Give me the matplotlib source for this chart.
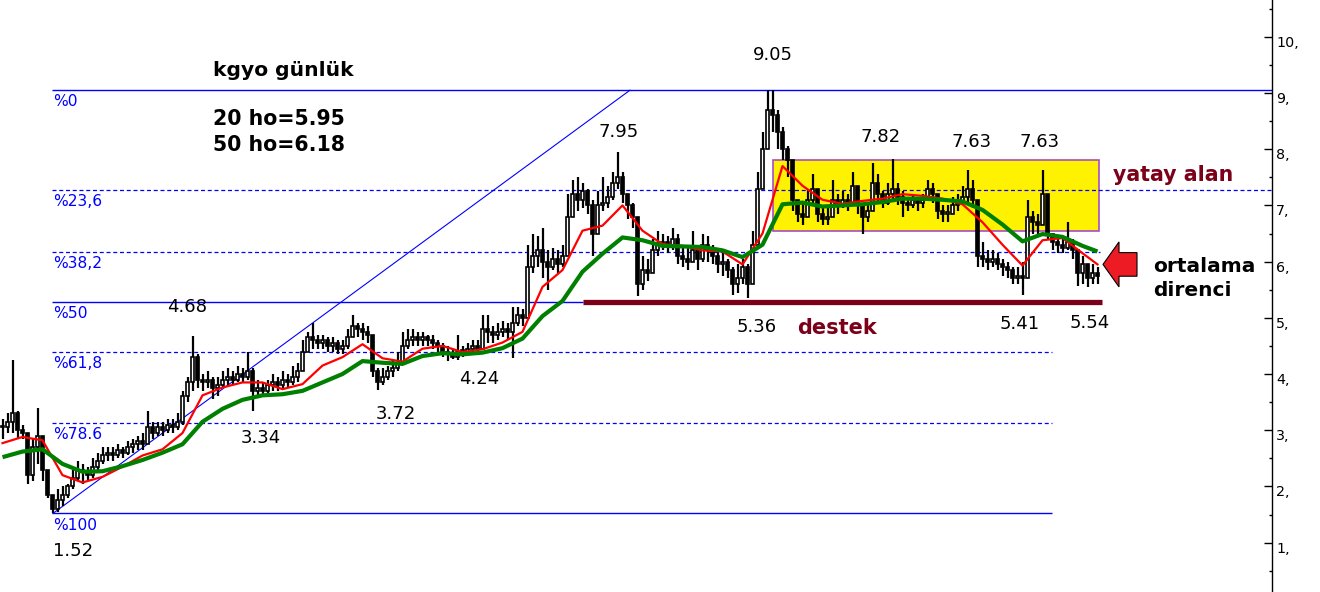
import numpy as np
import matplotlib
matplotlib.use("Agg")
import matplotlib.pyplot as plt
from matplotlib.patches import Rectangle, Polygon
from matplotlib.ticker import FixedLocator, MultipleLocator
import matplotlib.transforms as mtransforms

plt.rcParams['font.family'] = ['DejaVu Sans']

# ---- daily prices (one entry per session) ----
close = [3.05, 3.15, 3.3, 3.0, 2.95, 2.2, 2.7, 2.9, 2.3, 1.85,
         1.6, 1.75, 1.85, 2.0, 2.15, 2.3, 2.25, 2.2, 2.35, 2.45,
         2.55, 2.6, 2.55, 2.65, 2.6, 2.7, 2.75, 2.8, 2.75, 3.05,
         2.95, 3.05, 3.0, 3.1, 3.05, 3.15, 3.6, 3.85, 4.3, 3.9,
         3.85, 3.9, 3.75, 3.8, 3.9, 3.95, 3.9, 4.0, 3.95, 4.05,
         3.7, 3.75, 3.7, 3.8, 3.85, 3.8, 3.9, 3.85, 3.95, 4.05,
         4.4, 4.65, 4.6, 4.55, 4.6, 4.5, 4.55, 4.45, 4.5, 4.65,
         4.85, 4.8, 4.75, 4.7, 4.05, 3.85, 3.95, 4.05, 4.1, 4.2,
         4.5, 4.6, 4.65, 4.6, 4.65, 4.6, 4.55, 4.5, 4.4, 4.35,
         4.3, 4.4, 4.4, 4.45, 4.5, 4.45, 4.8, 4.75, 4.7, 4.75,
         4.8, 4.75, 4.9, 5.05, 5.0, 5.9, 6.1, 6.2, 6.0, 5.9,
         6.05, 5.95, 6.1, 6.8, 7.2, 7.1, 7.25, 7.0, 6.5, 7.0,
         7.05, 7.15, 7.4, 7.5, 7.2, 7.0, 6.8, 5.6, 5.85, 5.8,
         6.2, 6.3, 6.35, 6.3, 6.4, 6.1, 6.05, 6.0, 6.2, 6.05,
         6.3, 6.2, 6.1, 5.95, 6.0, 5.85, 5.6, 5.7, 5.9, 5.6,
         6.3, 7.3, 8.0, 8.7, 8.6, 8.3, 8.0, 7.8, 7.1, 6.85,
         6.8, 7.1, 7.3, 6.85, 6.75, 6.8, 7.1, 7.0, 7.1, 7.05,
         7.35, 7.0, 6.8, 6.9, 7.4, 7.2, 7.05, 7.2, 7.3, 7.15,
         7.05, 7.0, 7.1, 7.05, 7.1, 7.3, 7.2, 6.9, 6.85, 6.85,
         7.0, 7.05, 7.15, 7.3, 7.1, 6.1, 6.05, 6.0, 6.05, 5.95,
         5.9, 5.85, 5.7, 5.75, 5.7, 6.8, 6.7, 6.65, 7.2, 6.5,
         6.35, 6.3, 6.25, 6.35, 6.2, 5.8, 5.95, 5.7, 5.8, 5.75]

high = [3.2, 3.3, 4.25, 3.35, 3.1, 2.45, 2.85, 3.4, 2.8, 2.15,
        1.85, 1.95, 2.0, 2.05, 2.3, 2.45, 2.4, 2.35, 2.5, 2.6,
        2.7, 2.7, 2.7, 2.75, 2.7, 2.8, 2.85, 2.9, 2.95, 3.35,
        3.15, 3.15, 3.15, 3.2, 3.2, 3.3, 3.7, 3.95, 4.68, 4.35,
        4.0, 4.05, 3.95, 3.95, 4.05, 4.1, 4.05, 4.15, 4.1, 4.4,
        4.1, 3.9, 3.85, 3.9, 4.0, 3.95, 4.05, 4.0, 4.15, 4.2,
        4.6, 4.75, 4.9, 4.7, 4.7, 4.65, 4.65, 4.6, 4.6, 4.8,
        5.05, 4.9, 4.9, 4.85, 4.6, 4.1, 4.1, 4.15, 4.25, 4.4,
        4.75, 4.8, 4.8, 4.75, 4.75, 4.7, 4.7, 4.6, 4.55, 4.5,
        4.45, 4.7, 4.5, 4.55, 4.6, 4.6, 5.05, 5.05, 4.85, 4.9,
        4.95, 4.9, 5.2, 5.2, 5.15, 6.3, 6.5, 6.45, 6.6, 6.2,
        6.25, 6.2, 6.3, 7.2, 7.45, 7.5, 7.4, 7.3, 7.1, 7.25,
        7.5, 7.35, 7.6, 7.95, 7.6, 7.2, 7.05, 6.5, 6.1, 6.05,
        6.4, 6.55, 6.5, 6.45, 6.6, 6.5, 6.3, 6.3, 6.55, 6.3,
        6.5, 6.45, 6.3, 6.2, 6.15, 6.05, 5.9, 5.95, 6.05, 5.95,
        6.55, 7.6, 8.3, 9.05, 9.05, 8.7, 8.4, 8.05, 7.7, 7.1,
        7.05, 7.3, 7.55, 7.1, 6.95, 6.95, 7.45, 7.2, 7.25, 7.2,
        7.6, 7.3, 7.0, 7.05, 7.75, 7.55, 7.25, 7.4, 7.82, 7.4,
        7.25, 7.15, 7.2, 7.15, 7.2, 7.45, 7.4, 7.15, 7.0, 7.0,
        7.15, 7.2, 7.35, 7.63, 7.45, 6.6, 6.35, 6.2, 6.2, 6.15,
        6.05, 6.0, 5.9, 5.9, 6.0, 7.1, 6.9, 6.85, 7.63, 7.0,
        6.5, 6.45, 6.4, 6.7, 6.4, 6.15, 6.1, 5.9, 5.95, 5.9]

low = [2.85, 2.95, 2.95, 2.85, 2.85, 2.05, 2.1, 2.4, 2.1, 1.8,
       1.52, 1.55, 1.65, 1.8, 1.95, 2.1, 2.05, 2.1, 2.15, 2.3,
       2.4, 2.45, 2.45, 2.5, 2.5, 2.55, 2.6, 2.65, 2.65, 2.8,
       2.85, 2.9, 2.9, 2.95, 2.95, 3.0, 3.1, 3.5, 3.7, 3.75,
       3.7, 3.75, 3.55, 3.6, 3.75, 3.8, 3.8, 3.85, 3.85, 3.9,
       3.34, 3.6, 3.6, 3.65, 3.7, 3.7, 3.75, 3.75, 3.8, 3.85,
       4.1, 4.4, 4.45, 4.45, 4.45, 4.4, 4.4, 4.35, 4.35, 4.45,
       4.7, 4.65, 4.6, 4.55, 3.95, 3.72, 3.8, 3.9, 3.95, 4.05,
       4.3, 4.45, 4.5, 4.5, 4.5, 4.5, 4.45, 4.4, 4.3, 4.24,
       4.26, 4.25, 4.3, 4.35, 4.4, 4.35, 4.5, 4.55, 4.55, 4.6,
       4.65, 4.6, 4.28, 4.85, 4.85, 5.1, 5.8, 5.9, 5.7, 5.5,
       5.85, 5.8, 5.9, 6.1, 6.8, 6.9, 6.95, 6.85, 6.1, 6.8,
       6.9, 6.95, 7.1, 7.3, 7.05, 6.75, 6.6, 5.38, 5.5, 5.65,
       5.9, 6.1, 6.2, 6.15, 6.2, 5.95, 5.9, 5.85, 6.0, 5.85,
       6.0, 6.0, 5.95, 5.8, 5.75, 5.7, 5.4, 5.45, 5.6, 5.36,
       5.7, 6.4, 7.3, 8.0, 8.3, 8.0, 7.8, 7.5, 6.9, 6.7,
       6.65, 6.8, 7.0, 6.7, 6.65, 6.65, 6.85, 6.85, 6.95, 6.9,
       7.1, 6.85, 6.5, 6.7, 7.0, 7.05, 6.95, 7.0, 7.1, 7.0,
       6.8, 6.9, 6.95, 6.9, 6.95, 7.1, 7.05, 6.75, 6.7, 6.7,
       6.85, 6.9, 7.0, 7.05, 6.95, 5.9, 5.9, 5.85, 5.9, 5.85,
       5.75, 5.7, 5.6, 5.6, 5.41, 6.0, 6.5, 6.5, 6.9, 6.4,
       6.2, 6.15, 6.15, 6.2, 6.05, 5.56, 5.6, 5.54, 5.6, 5.6]

# ---- moving averages, sampled every 4 sessions (last one on the final session) ----
ma_idx = list(range(0, 220, 4)) + [219]
ma20 = [2.77, 2.88, 2.82, 2.2, 2.07, 2.17, 2.35, 2.55, 2.66, 2.95,
        3.62, 3.76, 3.85, 3.85, 3.73, 3.82, 4.15, 4.3, 4.53, 4.28,
        4.22, 4.45, 4.5, 4.39, 4.44, 4.56, 4.75, 5.55, 5.85, 6.55,
        6.64, 7.0, 6.55, 6.31, 6.28, 6.2, 6.18, 5.95, 6.5, 7.7,
        7.35, 7.1, 7.03, 7.08, 7.12, 7.2, 7.17, 7.12, 7.02, 6.7,
        6.3, 5.93, 6.38, 6.42, 6.15, 5.95]
ma50 = [2.52, 2.62, 2.66, 2.4, 2.26, 2.27, 2.36, 2.47, 2.6, 2.75,
        3.15, 3.38, 3.54, 3.62, 3.64, 3.7, 3.85, 4.0, 4.23, 4.2,
        4.18, 4.32, 4.37, 4.35, 4.38, 4.46, 4.63, 5.03, 5.3, 5.82,
        6.14, 6.43, 6.38, 6.28, 6.27, 6.26, 6.2, 6.08, 6.3, 7.02,
        7.05, 6.98, 7.0, 7.02, 7.06, 7.12, 7.12, 7.1, 7.07, 6.92,
        6.66, 6.36, 6.49, 6.44, 6.28, 6.18]

# ---- Fibonacci retracement between the swing low and swing high ----
fib_top = 9.05
fib_bottom = 1.52
fib_ratios = [0.0, 0.236, 0.382, 0.5, 0.618, 0.786, 1.0]
fib_names = ["%0", "%23,6", "%38,2", "%50", "%61,8", "%78.6", "%100"]

# horizontal range and support
range_top = 7.80
range_bottom = 6.55
support = fib_top - 0.5 * (fib_top - fib_bottom)

# swing labels: (text, pixel x centre, pixel baseline)
swing_labels = [("9.05", 773, 60), ("7.95", 619, 137), ("7.82", 881, 142),
                ("7.63", 972, 147), ("7.63", 1040, 147), ("4.68", 187, 312),
                ("3.34", 261, 443), ("3.72", 396, 419), ("4.24", 479, 384),
                ("1.52", 73, 556), ("5.36", 757, 332), ("5.41", 1020, 329),
                ("5.54", 1090, 328)]

W, H = 1320, 592
fig = plt.figure(figsize=(W / 100, H / 100), dpi=100)
ax = fig.add_axes([0, 0, 1272 / W, 1])

# price axis: pixel y = 93 + (9 - v) * 56.2
ax.set_ylim(9 - (H - 93) / 56.2, 9 + 93 / 56.2)
ax.set_xlim(-0.5, (1272 - 2.5) / 5)

BLUE = '#0000ff'
MAROON = '#7d0019'

# yellow sideways box
ax.add_patch(Rectangle(((773 - 2.5) / 5, range_bottom),
                       (1099 - 773) / 5, range_top - range_bottom,
                       facecolor='#fff200', edgecolor='#a64dc8', lw=1.2, zorder=1))

# Fibonacci levels
fib_x0 = (52 - 2.5) / 5
right_edge = ax.get_xlim()[1]
fib_x1 = [right_edge, right_edge, (1100 - 2.5) / 5, (583 - 2.5) / 5,
          (1052 - 2.5) / 5, (1052 - 2.5) / 5, (1052 - 2.5) / 5]
for r, name, x1 in zip(fib_ratios, fib_names, fib_x1):
    lvl = fib_top - r * (fib_top - fib_bottom)
    solid = r in (0.0, 0.5, 1.0)
    ax.hlines(lvl, fib_x0, x1, colors=BLUE, lw=1.0 if solid else 0.9,
              linestyles='solid' if solid else (0, (3.2, 2.2)), zorder=2)
    ax.annotate(name, (fib_x0 + 0.15, lvl), xytext=(0, -3.0),
                textcoords='offset points', ha='left', va='top',
                color=BLUE, fontsize=11.2, zorder=7)

# trend line from swing low to the 100% level
ax.plot([(53 - 2.5) / 5, (630 - 2.5) / 5], [fib_bottom, fib_top],
        color=BLUE, lw=0.8, zorder=2)

# candles (hollow when the session closed up)
c = np.array(close)
hi = np.array(high)
lo = np.array(low)
o = np.r_[c[0], c[:-1]]
idx = np.arange(len(c))
bl = np.minimum(o, c)
bh = np.maximum(np.abs(c - o), 0.03)
up = c >= o
ax.vlines(idx, np.minimum(lo, bl), np.maximum(hi, bl + bh), color='black', lw=1.6, zorder=3)
ax.bar(idx[up], bh[up], bottom=bl[up], width=0.72, facecolor='white',
       edgecolor='black', lw=1.2, zorder=3.5)
ax.bar(idx[~up], bh[~up], bottom=bl[~up], width=0.72, facecolor='black',
       edgecolor='black', lw=1.2, zorder=3.5)

# moving averages
ax.plot(ma_idx, ma20, color='#ff0000', lw=1.6, zorder=4, solid_joinstyle='round')
ax.plot(ma_idx, ma50, color='#008000', lw=3.0, zorder=4.5, solid_capstyle='butt')

# support bar
ax.hlines(support, (583 - 2.5) / 5, (1102 - 2.5) / 5, colors=MAROON, lw=3.8, zorder=6)

# arrow towards the moving averages
tip_x, tip_y = (1103 - 2.5) / 5, ma20[-1]
hx, sx = (1119 - 2.5) / 5, (1137 - 2.5) / 5
arrow = [(tip_x, tip_y), (hx, tip_y + 0.40), (hx, tip_y + 0.21), (sx, tip_y + 0.21),
         (sx, tip_y - 0.21), (hx, tip_y - 0.21), (hx, tip_y - 0.40)]
ax.add_patch(Polygon(arrow, closed=True, facecolor='#ed1c24', edgecolor='black',
                     lw=0.8, zorder=6))

# axis styling: only the right price scale
for s in ('left', 'top', 'bottom'):
    ax.spines[s].set_visible(False)
ax.spines['right'].set_linewidth(1.0)
ax.set_xticks([])
ax.yaxis.tick_right()
ax.yaxis.set_major_locator(FixedLocator(range(1, 11)))
ax.yaxis.set_minor_locator(MultipleLocator(0.5))
ax.set_yticklabels([f"{v}," for v in range(1, 11)])
ax.tick_params(axis='y', which='major', direction='in', length=6, width=1,
               pad=3, labelsize=10.3, colors='black')
ax.tick_params(axis='y', which='minor', direction='in', length=2.5, width=1)
shift = mtransforms.ScaledTranslation(0, -4.5 / 100, fig.dpi_scale_trans)
for t in ax.yaxis.get_major_ticks():
    t.label2.set_transform(t.label2.get_transform() + shift)


def px_text(x, y, s, **kw):
    fig.text(x / W, 1 - y / H, s, va='baseline', **kw)


for s, x, y in swing_labels:
    px_text(x, y, s, ha='center', fontsize=13, color='black')

px_text(213, 76, "kgyo günlük", fontsize=14.6, fontweight='bold')
px_text(213, 125, f"20 ho={ma20[-1]:.2f}", fontsize=14.8, fontweight='bold')
px_text(213, 151, f"50 ho={ma50[-1]:.2f}", fontsize=14.8, fontweight='bold')
px_text(797, 334, "destek", fontsize=15, fontweight='bold', color=MAROON)
px_text(1113, 181, "yatay alan", fontsize=14.8, fontweight='bold', color=MAROON)
px_text(1153, 272, "ortalama", fontsize=14.5, fontweight='bold')
px_text(1153, 296, "direnci", fontsize=14.5, fontweight='bold')

fig.savefig("out.png", dpi=100, facecolor='white')
